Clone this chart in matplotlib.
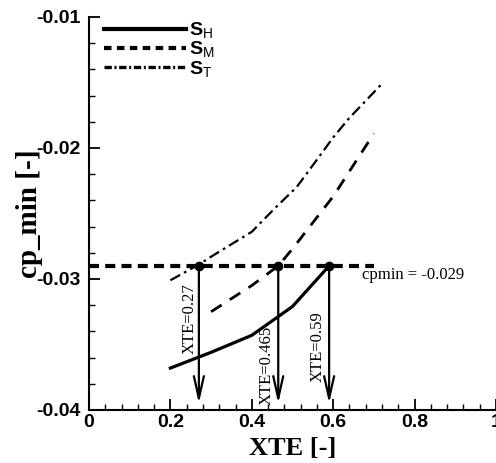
import matplotlib
matplotlib.use('Agg')
import matplotlib.pyplot as plt
from matplotlib.lines import Line2D
from matplotlib.ticker import MultipleLocator

# pressure-minimum curves for the three stations
xte_h = [0.2, 0.3, 0.4, 0.5, 0.59]
cp_h = [-0.0368, -0.0356, -0.0343, -0.0321, -0.029]

xte_m = [0.3, 0.4, 0.465, 0.5, 0.6, 0.7]
cp_m = [-0.0325, -0.0305, -0.029, -0.0277, -0.0237, -0.0189]

xte_t = [0.2, 0.27, 0.3, 0.4, 0.46, 0.51, 0.56, 0.6, 0.64, 0.72]
cp_t = [-0.0301, -0.0289, -0.0283, -0.0264, -0.0245, -0.0230, -0.0209, -0.0192, -0.0177, -0.0151]

labels = [r'$\mathbf{S}_{\mathregular{H}}$', r'$\mathbf{S}_{\mathregular{M}}$',
          r'$\mathbf{S}_{\mathregular{T}}$']

cpmin = -0.029
cpmin_x = [0.0, 0.7]
cross_xte = [0.27, 0.465, 0.59]
cross_text = ['XTE=0.27', 'XTE=0.465', 'XTE=0.59']
cross_text_pos = [(0.247, -0.0330), (0.437, -0.0366), (0.563, -0.0352)]

xticks = [0, 0.2, 0.4, 0.6, 0.8, 1.0]
xticklabels = ['0', '0.2', '0.4', '0.6', '0.8', '1']
yticks = [-0.04, -0.03, -0.02, -0.01]
yticklabels = ['-0.04', '-0.03', '-0.02', '-0.01']

SANS = 'Liberation Sans'
SERIF = 'Liberation Serif'

plt.rcParams['font.family'] = SANS
plt.rcParams['mathtext.fontset'] = 'custom'
plt.rcParams['mathtext.rm'] = SANS
plt.rcParams['mathtext.bf'] = SANS + ':bold'

fig = plt.figure(figsize=(4.96, 4.63), dpi=100)
ax = fig.add_axes([0.1794, 0.1145, 0.8206, 0.8490])

styles = [
    dict(linestyle='-', lw=2.3),
    dict(linestyle=(0, (4.5, 3.5)), lw=2.0),
    dict(linestyle=(0, (5, 2, 1.2, 2)), lw=1.6),
]
ax.plot(xte_h, cp_h, color='k', **styles[0])
ax.plot(xte_m, cp_m, color='k', **styles[1])
ax.plot(xte_t, cp_t, color='k', **styles[2])

# threshold line and crossing points
ax.plot(cpmin_x, [cpmin, cpmin], color='k', lw=3.0, linestyle=(0, (2.4, 1.5)))
ax.plot(cross_xte, [cpmin] * len(cross_xte), 'o', color='k', ms=6)
ax.text(0.671, -0.0297, 'cpmin = -0.029', family=SERIF, fontsize=12,
        ha='left', va='center')

for x, txt, (tx, ty) in zip(cross_xte, cross_text, cross_text_pos):
    ax.annotate('', xy=(x, -0.0395), xytext=(x, cpmin),
                arrowprops=dict(arrowstyle='->,head_length=1.6,head_width=0.36',
                                mutation_scale=10, lw=1.6, color='k',
                                shrinkA=0, shrinkB=0))
    ax.text(tx, ty, txt, rotation=90, family=SERIF, fontsize=12,
            ha='center', va='center')

ax.set_xlim(0, 1)
ax.set_ylim(-0.04, -0.01)
ax.set_xticks(xticks)
ax.set_xticklabels(xticklabels, family=SANS, fontweight='bold', fontsize=14)
ax.set_yticks(yticks)
ax.set_yticklabels(yticklabels, family=SANS, fontweight='bold', fontsize=14)
ax.xaxis.set_minor_locator(MultipleLocator(0.04))
ax.yaxis.set_minor_locator(MultipleLocator(0.002))
ax.tick_params(which='major', direction='in', length=8, width=1.3)
ax.tick_params(axis='y', which='major', pad=6)
ax.tick_params(axis='x', which='major', pad=3)
ax.tick_params(which='minor', direction='in', length=4.5, width=1.0)

ax.spines['top'].set_visible(False)
ax.spines['right'].set_visible(False)
ax.spines['left'].set_linewidth(1.5)
ax.spines['bottom'].set_linewidth(1.5)

ax.set_xlabel('XTE [-]', family=SERIF, fontweight='bold', fontsize=19, labelpad=4)
ax.set_ylabel('cp_min [-]', family=SERIF, fontweight='bold', fontsize=21, labelpad=-5)

# legend keys drawn a bit heavier than the curves
handles = [
    Line2D([], [], color='k', linestyle='-', lw=3.0),
    Line2D([], [], color='k', linestyle=(0, (1.8, 1.3)), lw=3.0),
    Line2D([], [], color='k', linestyle=(0, (2.2, 0.8, 0.6, 0.8)), lw=2.4),
]
ax.legend(handles, labels, loc='upper left', bbox_to_anchor=(-0.005, 1.035),
          frameon=False, handlelength=4.2, handletextpad=0.15, labelspacing=-0.05,
          prop={'family': SANS, 'size': 14})

fig.savefig('out.png', dpi=100)
